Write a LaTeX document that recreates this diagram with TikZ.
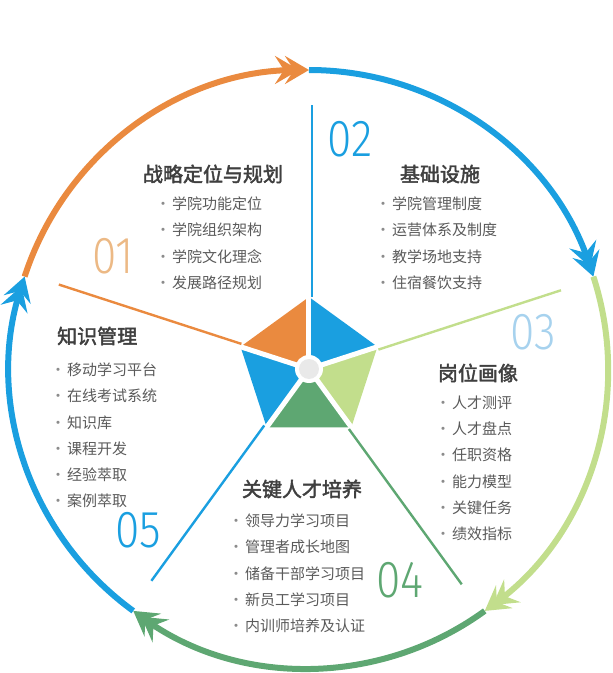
\documentclass[tikz,border=0pt]{standalone}
\usepackage{fontspec}
\usepackage{xcolor}
\usepackage{tikz}
\usetikzlibrary{arrows.meta}
\newfontfamily\cjk{Noto Sans CJK SC}
\newfontfamily\cjkbold[FakeBold=2.2]{Noto Sans CJK SC}
\IfFontExistsTF{Fira Sans Light}{\newfontfamily\numfont{Fira Sans Light}}{\newfontfamily\numfont{Liberation Sans}}
\definecolor{segorange}{HTML}{EA8A3F}
\definecolor{segblue}{HTML}{1A9FE0}
\definecolor{seglight}{HTML}{C2DE8C}
\definecolor{segdark}{HTML}{5EA772}
\definecolor{numtan}{HTML}{ECB985}
\definecolor{numpale}{HTML}{A7D2EE}
\definecolor{titlegray}{HTML}{3F3F3F}
\definecolor{itemgray}{HTML}{5A5A5A}
\definecolor{hubgray}{HTML}{E9E9E9}
\newcommand\dotit{\hbox to 18pt{\hss\textcolor{itemgray!70}{·}\hss}}

\begin{document}
\begin{tikzpicture}[
  x=1pt, y=1pt,
  ring/.style={line width=6pt,
    -{Stealth[length=24pt,width=28pt,inset=9pt,sep=-14pt]Stealth[length=24pt,width=28pt,inset=9pt]}},
  spoke/.style={line width=2.4pt},
  gap/.style={white, line width=5pt},
  title/.style={font=\cjkbold\fontsize{20}{24}\selectfont, text=titlegray, inner sep=0},
  items/.style={font=\cjk\fontsize{15}{26.3}\selectfont, text=itemgray, align=left,
                anchor=north west, inner sep=0},
  num/.style={font=\numfont\fontsize{52}{52}\selectfont, inner sep=0, xscale=.85}
]
\useasboundingbox (-309,-304) rectangle (304,369);

% outer ring, one arc per stage
\draw[ring, segorange] (162:299pt) arc[start angle=162, end angle=90,   radius=299pt];
\draw[ring, segblue]   (90:299pt)  arc[start angle=90,  end angle=18,   radius=299pt];
\draw[ring, seglight]  (18:299pt)  arc[start angle=18,  end angle=-54,  radius=299pt];
\draw[ring, segdark]   (-54:299pt) arc[start angle=-54, end angle=-126, radius=299pt];
\draw[ring, segblue]   (-126:299pt) arc[start angle=-126, end angle=-198, radius=299pt];

% pentagon
\fill[segorange] (0,0) -- (90:72pt)   -- (162:72pt)  -- cycle;
\fill[segblue]   (0,0) -- (18:72pt)   -- (90:72pt)   -- cycle;
\fill[seglight]  (0,0) -- (-54:72pt)  -- (18:72pt)   -- cycle;
\fill[segdark]   (0,0) -- (-126:72pt) -- (-54:72pt)  -- cycle;
\fill[segblue]   (0,0) -- (162:72pt)  -- (234:72pt)  -- cycle;
\draw[gap] (0,0) -- (90:80pt);
\draw[gap] (0,0) -- (18:80pt);
\draw[gap] (0,0) -- (-54:80pt);
\draw[gap] (0,0) -- (-126:80pt);
\draw[gap] (0,0) -- (162:80pt);
\fill[white] (0,0) circle (14pt);
\node[circle, fill=hubgray, minimum size=20pt, inner sep=0] (hub) at (0,0) {};

% spokes
\draw[spoke, segorange, shift={(72:3pt)}]   (162:72pt)  -- (162:264pt);
\draw[spoke, segblue,   shift={(0:3pt)}]    (90:72pt)   -- (90:264pt);
\draw[spoke, seglight,  shift={(-72:3pt)}]  (18:72pt)   -- (18:264pt);
\draw[spoke, segdark,   shift={(-144:3pt)}] (-54:72pt)  -- (-54:264pt);
\draw[spoke, segblue,   shift={(144:3pt)}]  (-126:72pt) -- (-126:264pt);

% numbers
\node[num, text=numtan]    (n1) at (-196,113) {01};
\node[num, text=segblue]   (n2) at (41,230)   {02};
\node[num, text=numpale]   (n3) at (224,37)   {03};
\node[num, text=segdark]   (n4) at (91,-211)  {04};
\node[num, text=segblue]   (n5) at (-171,-161) {05};

% titles
\node[title]               (t1) at (-96,195)  {战略定位与规划};
\node[title]               (t2) at (131,195)  {基础设施};
\node[title]               (t3) at (169,-4)   {岗位画像};
\node[title]               (t4) at (-7,-120)  {关键人才培养};
\node[title, anchor=west]  (t5) at (-252,33)  {知识管理};

% lists
\node[items] (l1) at (-155,172.5) {\dotit 学院功能定位\\\dotit 学院组织架构\\\dotit 学院文化理念\\\dotit 发展路径规划};
\node[items] (l2) at (65,172.5)   {\dotit 学院管理制度\\\dotit 运营体系及制度\\\dotit 教学场地支持\\\dotit 住宿餐饮支持};
\node[items] (l3) at (125,-26.5)  {\dotit 人才测评\\\dotit 人才盘点\\\dotit 任职资格\\\dotit 能力模型\\\dotit 关键任务\\\dotit 绩效指标};
\node[items] (l4) at (-82,-144.5) {\dotit 领导力学习项目\\\dotit 管理者成长地图\\\dotit 储备干部学习项目\\\dotit 新员工学习项目\\\dotit 内训师培养及认证};
\node[items] (l5) at (-260,6.5)   {\dotit 移动学习平台\\\dotit 在线考试系统\\\dotit 知识库\\\dotit 课程开发\\\dotit 经验萃取\\\dotit 案例萃取};
\end{tikzpicture}
\end{document}
